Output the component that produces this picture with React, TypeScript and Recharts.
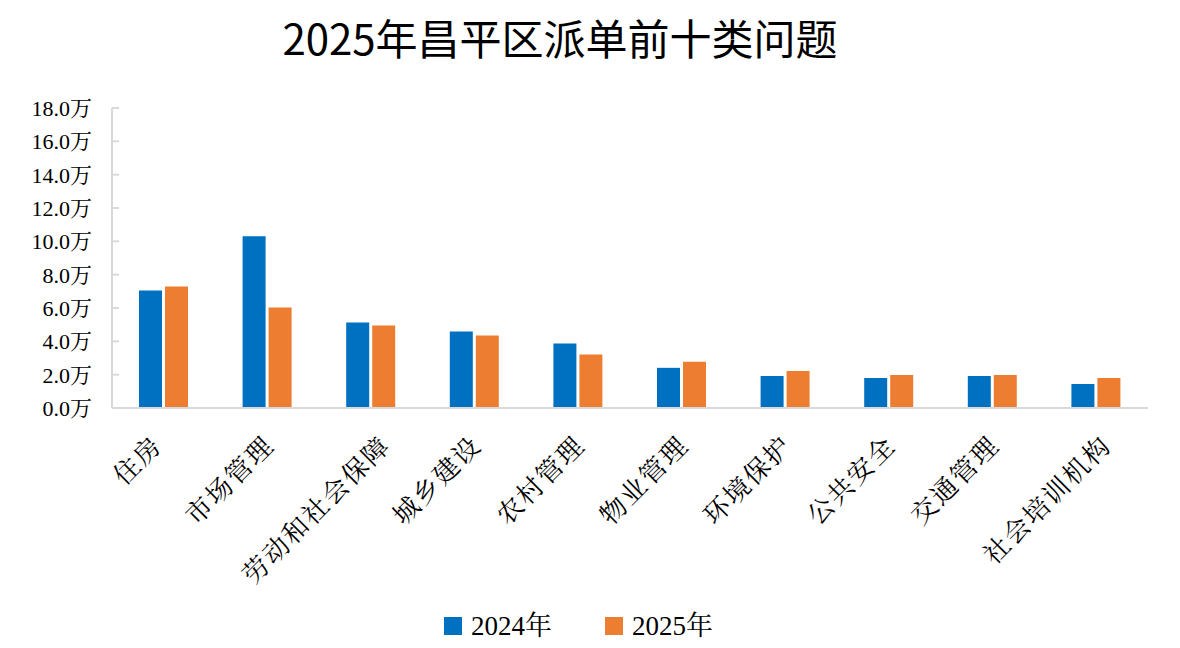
import React from "react";
import { BarChart, Bar, XAxis, YAxis } from "recharts";

const categories = [
  "住房",
  "市场管理",
  "劳动和社会保障",
  "城乡建设",
  "农村管理",
  "物业管理",
  "环境保护",
  "公共安全",
  "交通管理",
  "社会培训机构",
];
const values2024 = [7.05, 10.3, 5.13, 4.59, 3.87, 2.41, 1.92, 1.8, 1.92, 1.44];
const values2025 = [7.29, 6.03, 4.95, 4.35, 3.21, 2.77, 2.22, 1.98, 1.98, 1.8];
const yTicks = [0, 2, 4, 6, 8, 10, 12, 14, 16, 18];
const seriesNames = ["2024年", "2025年"];
const COLORS = ["#0070C0", "#ED7D31"];

const SERIF = "'Times New Roman', 'Liberation Serif', 'Noto Serif CJK SC', serif";

const data = categories.map((name, i) => ({
  name,
  y2024: values2024[i],
  y2025: values2025[i],
}));

function YTick({ x, y, payload }: any) {
  const axisX = x + 20;
  return (
    <g>
      <line x1={axisX} x2={axisX + 7} y1={y} y2={y} stroke="#d9d9d9" strokeWidth={2} />
      <text x={x} y={y} dy="0.36em" textAnchor="end" fontFamily={SERIF} fontSize={22} fill="#000">
        {payload.value.toFixed(1)}万
      </text>
    </g>
  );
}

function XTick({ x, y, payload }: any) {
  // longer labels sit a little further right, as in the original
  const n = String(payload.value).length;
  const tx = x + 4.2 * (n - 2);
  const ty = y + 39;
  return (
    <text
      x={tx}
      y={ty}
      textAnchor="end"
      transform={`rotate(-45, ${tx}, ${ty})`}
      fontFamily={SERIF}
      fontSize={26}
      letterSpacing={2}
      fill="#000"
    >
      {payload.value}
    </text>
  );
}

export default function App() {
  return (
    <div
      style={{
        position: "absolute",
        top: 0,
        left: 0,
        width: 1180,
        height: 648,
        background: "#fff",
      }}
    >
      <div
        style={{
          position: "absolute",
          top: 16,
          left: 0,
          width: 1120,
          textAlign: "center",
          fontFamily: "'Noto Sans CJK SC', 'Noto Sans', sans-serif",
          fontSize: 42,
          lineHeight: "42px",
          color: "#000",
        }}
      >
        2025年昌平区派单前十类问题
      </div>

      <BarChart
        width={1180}
        height={648}
        data={data}
        margin={{ top: 108, right: 32, bottom: 0, left: 12 }}
        barGap={3}
      >
        <XAxis
          dataKey="name"
          height={240}
          interval={0}
          axisLine={{ stroke: "#d9d9d9", strokeWidth: 2 }}
          tickLine={false}
          tickSize={0}
          tickMargin={0}
          tick={<XTick />}
        />
        <YAxis
          width={100}
          domain={[0, 18]}
          ticks={yTicks}
          axisLine={{ stroke: "#d9d9d9", strokeWidth: 2 }}
          tickLine={false}
          tickSize={0}
          tickMargin={20}
          tick={<YTick />}
        />
        <Bar dataKey="y2024" name={seriesNames[0]} fill={COLORS[0]} barSize={23} isAnimationActive={false} />
        <Bar dataKey="y2025" name={seriesNames[1]} fill={COLORS[1]} barSize={23} isAnimationActive={false} />
      </BarChart>

      <div
        style={{
          position: "absolute",
          top: 609,
          left: 444,
          display: "flex",
          alignItems: "center",
          gap: 53,
          fontFamily: SERIF,
          fontSize: 27,
          lineHeight: "34px",
          color: "#000",
        }}
      >
        {seriesNames.map((label, i) => (
          <div key={label} style={{ display: "flex", alignItems: "center", gap: 9 }}>
            <div style={{ width: 18, height: 18, background: COLORS[i] }} />
            <span>{label}</span>
          </div>
        ))}
      </div>
    </div>
  );
}
